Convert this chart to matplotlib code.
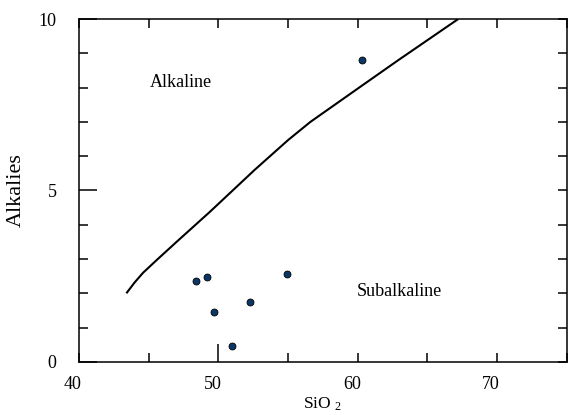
import matplotlib
matplotlib.use("Agg")
import matplotlib.pyplot as plt
import matplotlib.transforms as mtransforms
from matplotlib.ticker import MultipleLocator

plt.rcParams['font.family'] = ['Liberation Serif', 'DejaVu Serif']
plt.rcParams['mathtext.fontset'] = 'custom'
plt.rcParams['mathtext.rm'] = 'Liberation Serif'
plt.rcParams['mathtext.it'] = 'Liberation Serif'

# Alkaline / subalkaline dividing line
line_sio2 = [43.4, 44.0, 44.6, 45.6, 47.0, 49.4, 52.6, 55.0, 56.6, 60.2, 62.9, 67.2]
line_alk = [2.0, 2.32, 2.6, 2.98, 3.5, 4.38, 5.6, 6.47, 7.0, 8.03, 8.8, 10.0]

# samples
sio2 = [48.4, 49.2, 54.9, 52.3, 49.7, 51.0, 60.3]
alkalies = [2.37, 2.48, 2.55, 1.76, 1.45, 0.45, 8.80]

xticks = [40, 50, 60, 70]
yticks = [0, 5, 10]

fig = plt.figure(figsize=(5.68, 4.15), dpi=100)
ax = fig.add_axes([0.139, 0.128, 0.859, 0.826])

ax.plot(line_sio2, line_alk, color='black', lw=1.5, solid_capstyle='butt')
ax.plot(sio2, alkalies, 'o', ms=5, mfc='#0b3766', mec='black', mew=0.6, ls='none')

ax.text(47.3, 8.15, 'Alkaline', fontsize=13, ha='center', va='center')
ax.text(63.0, 2.05, 'Subalkaline', fontsize=13, ha='center', va='center')

ax.set_xlim(40, 75)
ax.set_ylim(0, 10)
ax.set_xticks(xticks)
ax.set_yticks(yticks)
ax.xaxis.set_minor_locator(MultipleLocator(5))
ax.yaxis.set_minor_locator(MultipleLocator(1))
ax.tick_params(which='both', direction='in', top=True, right=True, width=1.1,
               labelsize=13, colors='black')
ax.tick_params(axis='x', which='major', length=6.5, pad=10)
ax.tick_params(axis='x', which='minor', length=6.5)
ax.tick_params(axis='y', which='major', length=13, pad=16)
ax.tick_params(axis='y', which='minor', length=6.5)
# long tick at 50 on bottom only
t50 = ax.xaxis.get_major_ticks()[1]
t50.tick1line.set_markersize(13)
for t in ax.yaxis.get_major_ticks():
    t.tick2line.set_markersize(6.5)

# x tick labels sit slightly left of their ticks
offset = mtransforms.ScaledTranslation(-6 / 100, 0, fig.dpi_scale_trans)
for lab in ax.get_xticklabels():
    lab.set_transform(lab.get_transform() + offset)

for s in ax.spines.values():
    s.set_linewidth(1.1)

ax.set_xlabel('SiO $_{2}$', fontsize=12.5, labelpad=2)
ax.set_ylabel('Alkalies', fontsize=16, labelpad=9)

fig.savefig('out.png', dpi=100)
